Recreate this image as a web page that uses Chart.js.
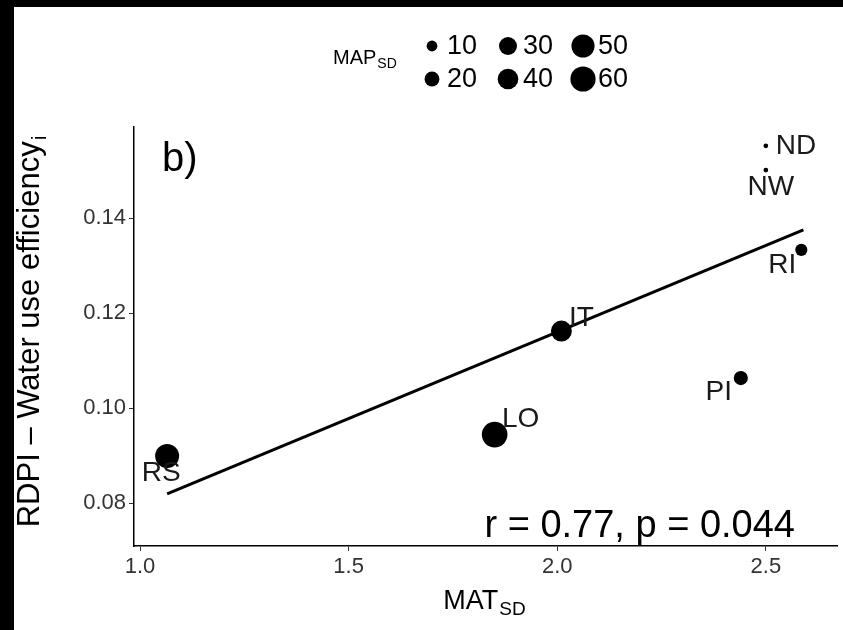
<!DOCTYPE html>
<html>
<head>
<meta charset="utf-8">
<script src="https://cdn.jsdelivr.net/npm/chart.js@4"></script>
<style>
  body { margin: 0; background: #000; }
  #panel { position: absolute; left: 14px; top: 7px; width: 829px; height: 623px; background: #fff; overflow: hidden; }
</style>
</head>
<body>
<div id="panel"><canvas id="chart" width="836" height="623"></canvas></div>
<script>
// sites (MAT_SD vs RDPI - WUE), point size = MAP_SD
const sites = ['RS', 'LO', 'IT', 'PI', 'RI', 'ND', 'NW'];
const matSD = [1.065, 1.85, 2.01, 2.44, 2.585, 2.50, 2.50];
const rdpi = [0.0899, 0.0944, 0.1162, 0.1063, 0.1333, 0.1552, 0.1501];
const mapSD = [54, 62, 41, 18, 13, 1, 1];

// fitted line end points
const fitX = [1.065, 2.59];
const fitY = [0.0819, 0.1375];

const xTicks = [1.0, 1.5, 2.0, 2.5];
const yTicks = [0.08, 0.10, 0.12, 0.14];
const legendSizes = [10, 20, 30, 40, 50, 60];

// label offsets (px) from each point
const labelDx = [-6, 26, 20, -22, -19, 10, 5];
const labelDy = [17, -15, -13, 14, 15, 0, 17];
const labelAlign = ['center', 'center', 'center', 'center', 'center', 'left', 'center'];

const FONT = '"Liberation Sans", Arial, sans-serif';
const radius = v => Math.sqrt(2.6 * v + 3);

function subText(ctx, main, sub, x, y, size, subSize, align) {
  ctx.font = size + 'px ' + FONT;
  const w1 = ctx.measureText(main).width;
  ctx.font = subSize + 'px ' + FONT;
  const w2 = ctx.measureText(sub).width;
  let x0 = x;
  if (align === 'center') x0 = x - (w1 + w2) / 2;
  ctx.textAlign = 'left';
  ctx.textBaseline = 'alphabetic';
  ctx.font = size + 'px ' + FONT;
  ctx.fillText(main, x0, y);
  ctx.font = subSize + 'px ' + FONT;
  ctx.fillText(sub, x0 + w1 + 1, y + size * 0.22);
}

const extras = {
  id: 'extras',
  afterDatasetsDraw(chart) {
    const ctx = chart.ctx;
    const xs = chart.scales.x, ys = chart.scales.y;
    ctx.save();
    ctx.fillStyle = '#1a1a1a';
    // point labels
    ctx.font = '28px ' + FONT;
    ctx.textBaseline = 'middle';
    sites.forEach((s, i) => {
      ctx.textAlign = labelAlign[i];
      ctx.fillText(s, xs.getPixelForValue(matSD[i]) + labelDx[i], ys.getPixelForValue(rdpi[i]) + labelDy[i]);
    });
    // panel letter
    ctx.fillStyle = '#000';
    ctx.font = '40px ' + FONT;
    ctx.textAlign = 'left';
    ctx.fillText('b)', 148, 153);
    // r / p annotation
    ctx.font = '38px ' + FONT;
    ctx.textAlign = 'right';
    ctx.fillText('r = 0.77, p = 0.044', 781, 520);
    // axis titles
    subText(ctx, 'MAT', 'SD', 470, 602, 27, 19, 'center');
    ctx.save();
    ctx.translate(25, 325);
    ctx.rotate(-Math.PI / 2);
    subText(ctx, 'RDPI \u2013 Water use efficiency', 'i', 0, 0, 31, 21, 'center');
    ctx.restore();
    // size legend
    subText(ctx, 'MAP', 'SD', 319, 57, 20, 14, 'left');
    const colX = [418, 494, 569];
    const rowY = [39, 72];
    legendSizes.forEach((v, i) => {
      const cx = colX[Math.floor(i / 2)], cy = rowY[i % 2];
      ctx.beginPath();
      ctx.arc(cx, cy, radius(v), 0, Math.PI * 2);
      ctx.fillStyle = '#000';
      ctx.fill();
      ctx.font = '27px ' + FONT;
      ctx.textAlign = 'left';
      ctx.textBaseline = 'middle';
      ctx.fillText(String(v), cx + 15, cy + 1);
    });
    ctx.restore();
  }
};

new Chart(document.getElementById('chart'), {
  type: 'scatter',
  data: {
    datasets: [{
      data: matSD.map((x, i) => ({ x: x, y: rdpi[i] })),
      backgroundColor: '#000',
      borderWidth: 0,
      pointRadius: mapSD.map(radius),
      pointHoverRadius: mapSD.map(radius)
    }, {
      type: 'line',
      data: fitX.map((x, i) => ({ x: x, y: fitY[i] })),
      borderColor: '#000',
      borderWidth: 3,
      pointRadius: 0,
      fill: false
    }]
  },
  options: {
    responsive: false,
    animation: false,
    layout: { padding: { top: 120, right: 6, left: 0, bottom: 0 } },
    plugins: { legend: { display: false }, tooltip: { enabled: false } },
    scales: {
      x: {
        type: 'linear',
        min: 0.9856, max: 2.671,
        afterBuildTicks: s => { s.ticks = xTicks.map(v => ({ value: v })); },
        afterFit: s => { s.height = 84; },
        ticks: { callback: v => v.toFixed(1), color: '#333', font: { size: 22, family: FONT }, padding: 3, maxRotation: 0 },
        grid: { drawOnChartArea: false, drawTicks: true, tickLength: 5, color: '#333' },
        border: { color: '#000', width: 1.5 }
      },
      y: {
        min: 0.07095, max: 0.15916,
        afterBuildTicks: s => { s.ticks = yTicks.map(v => ({ value: v })); },
        afterFit: s => { s.width = 120; },
        ticks: { callback: v => v.toFixed(2), color: '#333', font: { size: 22, family: FONT }, padding: 3 },
        grid: { drawOnChartArea: false, drawTicks: true, tickLength: 5, color: '#333' },
        border: { color: '#000', width: 1.5 }
      }
    }
  },
  plugins: [extras]
});
</script>
</body>
</html>
